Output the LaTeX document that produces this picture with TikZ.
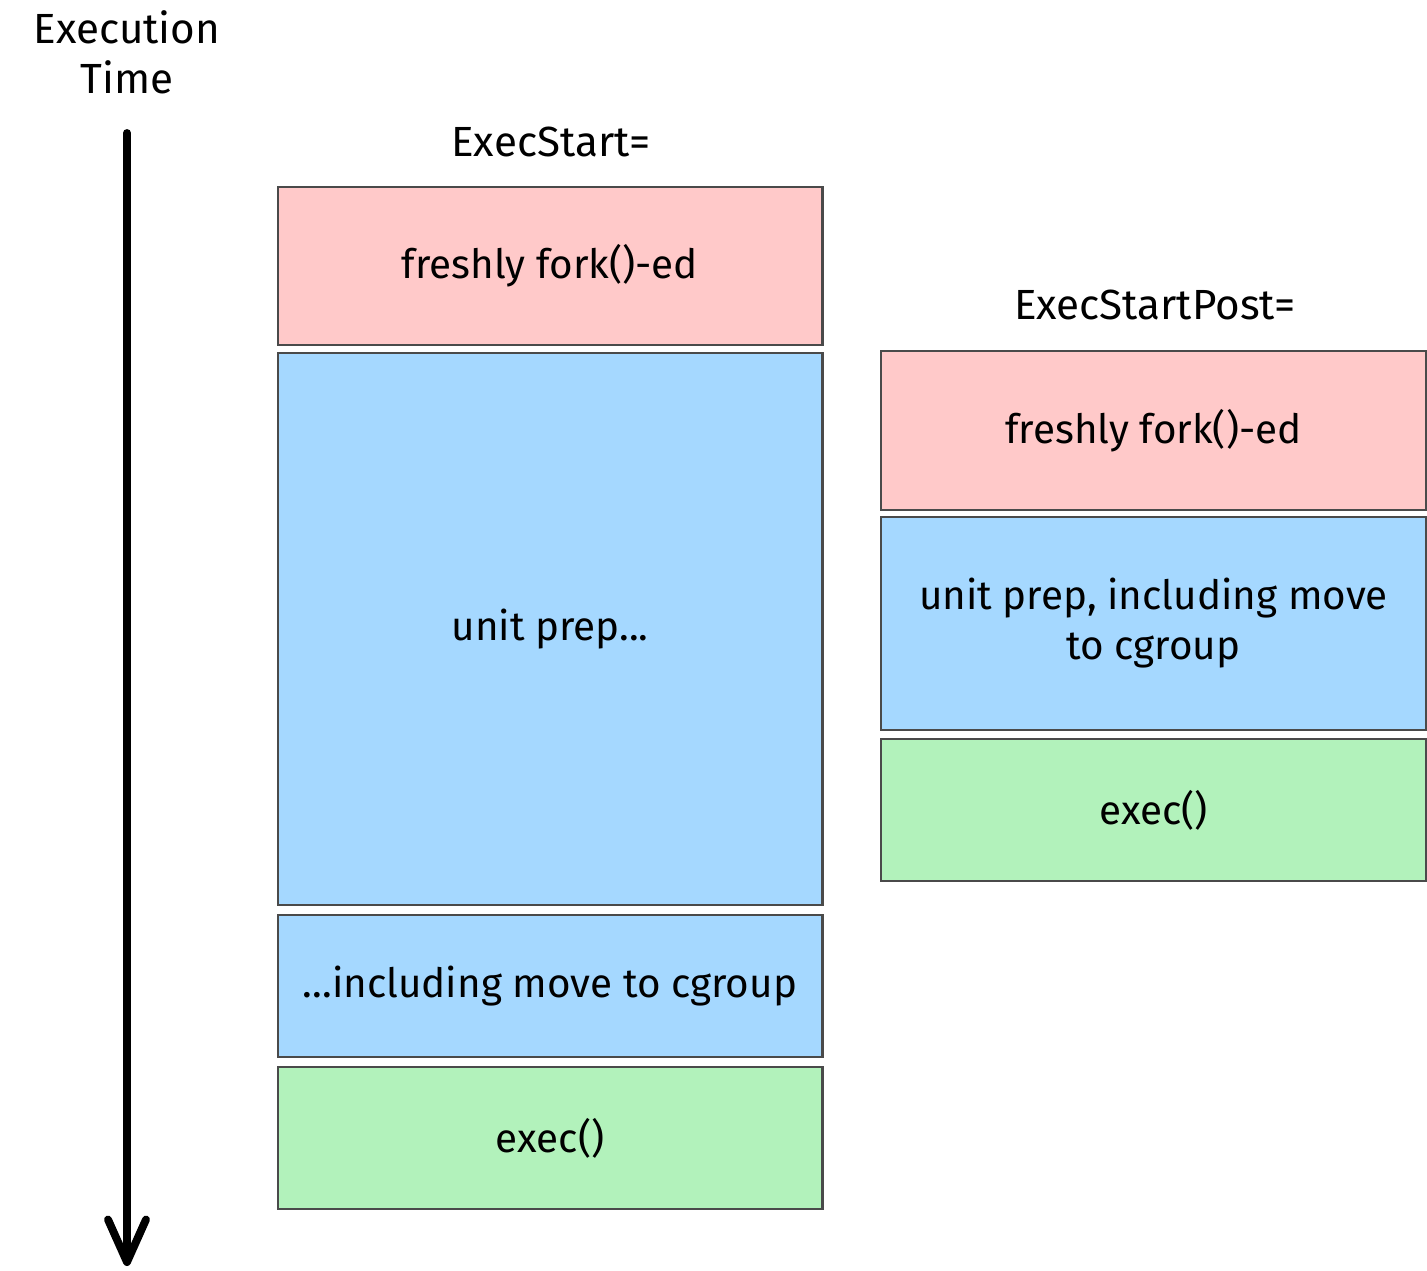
\documentclass[tikz,border=0pt]{standalone}
\usepackage{fontspec}
\setmainfont{Fira Sans}
\usepackage{xcolor}
\usetikzlibrary{arrows.meta}

\definecolor{forkpink}{HTML}{FFC9C9}
\definecolor{prepblue}{HTML}{A5D8FF}
\definecolor{execgreen}{HTML}{B2F2BB}
\definecolor{edgegray}{HTML}{4A4A4A}

\tikzset{
	stage/.style = {draw = edgegray, line width = 1.2pt, minimum width = 10.9cm, inner sep = 0pt, align = center, font = \fontsize{23}{28.5}\selectfont},
	forkbox/.style = {stage, fill = forkpink},
	prepbox/.style = {stage, fill = prepblue},
	execbox/.style = {stage, fill = execgreen},
	heading/.style = {font = \fontsize{24}{28.5}\selectfont, align = center},
	timeline/.style = {line width = 4.5pt, line cap = round, -{Straight Barb[length = 8.5mm, width = 7.6mm, round]}}
}

\begin{document}
\begin{tikzpicture}[x = 0.02cm, y = -0.02cm]
			\useasboundingbox (0,0) rectangle (1427,1271);
			% time axis
			\node [heading] (timelabel) at (127,52) {Execution\\Time};
			\coordinate (tstart) at (127,133);
			\coordinate (tend) at (127,1266);
			\draw [timeline] (tstart) -- (tend);
			% ExecStart= column
			\node [heading] (starthead) at (551,142) {ExecStart=};
			\node [forkbox, minimum height = 3.16cm] (startfork) at (550,266) {freshly fork()-ed};
			\node [prepbox, minimum height = 11.04cm] (startprep) at (550,629) {unit prep...};
			\node [prepbox, minimum height = 2.84cm] (startcgroup) at (550,986) {...including move to cgroup};
			\node [execbox, minimum height = 2.84cm] (startexec) at (550,1138) {exec()};
			% ExecStartPost= column
			\node [heading] (posthead) at (1155,305) {ExecStartPost=};
			\node [forkbox, minimum height = 3.18cm] (postfork) at (1153.5,430.5) {freshly fork()-ed};
			\node [prepbox, minimum height = 4.26cm] (postprep) at (1153.5,623.5) {unit prep, including move\\to cgroup};
			\node [execbox, minimum height = 2.84cm] (postexec) at (1153.5,810) {exec()};
		\end{tikzpicture}
\end{document}
